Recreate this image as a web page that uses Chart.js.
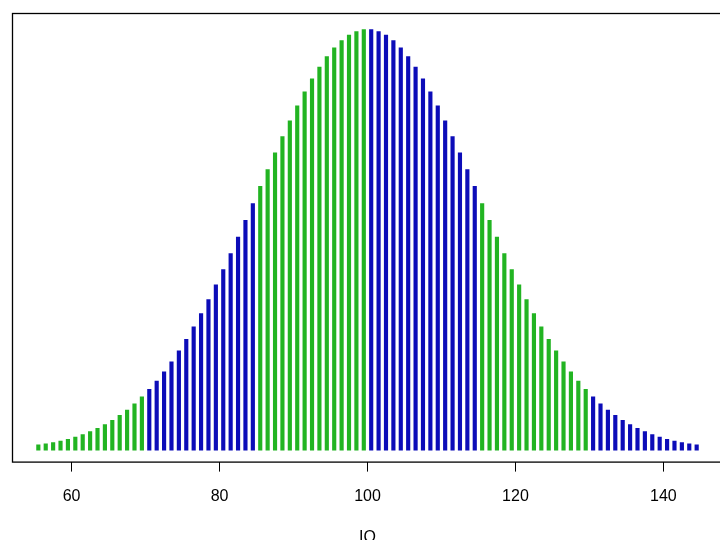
<!DOCTYPE html>
<html>
<head>
<meta charset="utf-8">
<script src="https://cdn.jsdelivr.net/npm/chart.js@4/dist/chart.umd.min.js"></script>
<style>
   html, body { margin: 0; padding: 0; background: #ffffff; overflow: hidden; }
   #wrap { width: 740px; height: 547px; }
</style>
</head>
<body>
<div id="wrap"><canvas id="iq-chart" width="740" height="547"></canvas></div>
<script>
// milieu de chaque intervalle d'un point de QI
const iqScores = [
   55.5, 56.5, 57.5, 58.5, 59.5, 60.5, 61.5, 62.5, 63.5, 64.5, 65.5, 66.5, 67.5, 68.5, 69.5,
   70.5, 71.5, 72.5, 73.5, 74.5, 75.5, 76.5, 77.5, 78.5, 79.5, 80.5, 81.5, 82.5, 83.5, 84.5,
   85.5, 86.5, 87.5, 88.5, 89.5, 90.5, 91.5, 92.5, 93.5, 94.5, 95.5, 96.5, 97.5, 98.5, 99.5,
   100.5, 101.5, 102.5, 103.5, 104.5, 105.5, 106.5, 107.5, 108.5, 109.5, 110.5, 111.5, 112.5, 113.5, 114.5,
   115.5, 116.5, 117.5, 118.5, 119.5, 120.5, 121.5, 122.5, 123.5, 124.5, 125.5, 126.5, 127.5, 128.5, 129.5,
   130.5, 131.5, 132.5, 133.5, 134.5, 135.5, 136.5, 137.5, 138.5, 139.5, 140.5, 141.5, 142.5, 143.5, 144.5
];

const density = [
   0.00033, 0.00040, 0.00048, 0.00058, 0.00069, 0.00083, 0.00099, 0.00117, 0.00138, 0.00162,
   0.00189, 0.00220, 0.00254, 0.00293, 0.00337, 0.00385, 0.00437, 0.00495, 0.00559, 0.00627,
   0.00701, 0.00780, 0.00863, 0.00952, 0.01045, 0.01142, 0.01243, 0.01347, 0.01452, 0.01559,
   0.01667, 0.01774, 0.01879, 0.01982, 0.02082, 0.02176, 0.02265, 0.02347, 0.02421, 0.02487,
   0.02543, 0.02588, 0.02623, 0.02646, 0.02658,
   0.02658, 0.02646, 0.02623, 0.02588, 0.02543, 0.02487, 0.02421, 0.02347, 0.02265, 0.02176,
   0.02082, 0.01982, 0.01879, 0.01774, 0.01667, 0.01559, 0.01452, 0.01347, 0.01243, 0.01142,
   0.01045, 0.00952, 0.00863, 0.00780, 0.00701, 0.00627, 0.00559, 0.00495, 0.00437, 0.00385,
   0.00337, 0.00293, 0.00254, 0.00220, 0.00189, 0.00162, 0.00138, 0.00117, 0.00099, 0.00083,
   0.00069, 0.00058, 0.00048, 0.00040, 0.00033
];

// bornes des bandes de couleur (vert / bleu en alternance)
const bandStarts = [70, 85, 100, 115, 130];
const xTickValues = [60, 80, 100, 120, 140];

const GREEN = '#22b422';
const BLUE = '#0c0cb8';

function bandColor(iq) {
   let band = 0;
   for (const start of bandStarts) {
      if (iq >= start) band++;
   }
   return band % 2 === 0 ? GREEN : BLUE;
}

// cadre autour de la zone du graphique (comme un box() de R)
const framePlugin = {
   id: 'frame',
   afterDraw(chart) {
      const { ctx, chartArea } = chart;
      ctx.save();
      ctx.strokeStyle = '#000000';
      ctx.lineWidth = 1.3;
      ctx.strokeRect(chartArea.left + 0.5, chartArea.top + 0.5,
         chartArea.right - chartArea.left, chartArea.bottom - chartArea.top);
      ctx.restore();
   }
};

const points = iqScores.map((iq, i) => ({ x: iq, y: density[i] }));

new Chart(document.getElementById('iq-chart'), {
   type: 'bar',
   data: {
      datasets: [{
         data: points,
         backgroundColor: points.map(p => bandColor(p.x)),
         barThickness: 3.5,
         borderWidth: 0
      }]
   },
   options: {
      responsive: false,
      animation: false,
      layout: {
         padding: { left: 12, top: 13, right: 17, bottom: 0 }
      },
      scales: {
         x: {
            type: 'linear',
            min: 51.94,
            max: 148.06,
            offset: false,
            afterBuildTicks: axis => {
               axis.ticks = xTickValues.map(v => ({ value: v }));
            },
            ticks: {
               autoSkip: false,
               maxRotation: 0,
               padding: 15,
               color: '#000000',
               font: { family: '"Liberation Sans", Arial, sans-serif', size: 16 }
            },
            grid: {
               offset: false,
               drawOnChartArea: false,
               drawTicks: true,
               tickLength: 10,
               tickColor: '#000000',
               tickWidth: 1
            },
            border: { display: false },
            title: {
               display: true,
               text: 'IQ',
               color: '#000000',
               padding: { top: 7, bottom: 0 },
               font: { family: '"Liberation Sans", Arial, sans-serif', size: 16 }
            }
         },
         y: {
            display: false,
            min: -0.000724,
            max: 0.027631
         }
      },
      plugins: {
         legend: { display: false },
         tooltip: { enabled: false }
      }
   },
   plugins: [framePlugin]
});
</script>
</body>
</html>
